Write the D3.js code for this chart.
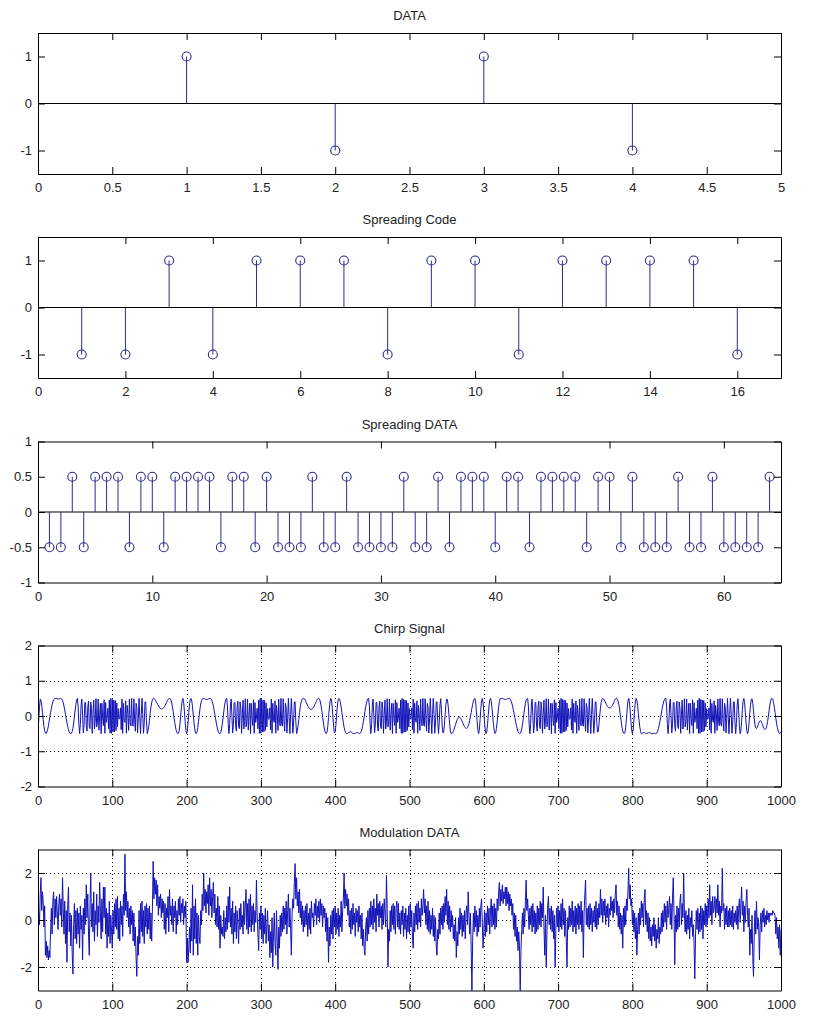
<!DOCTYPE html>
<html><head><meta charset="utf-8">
<script src="https://cdn.jsdelivr.net/npm/d3@7"></script>
<style>body{margin:0;background:#fff}</style>
</head><body>
<svg id="chart" width="827" height="1024"></svg>
<script>
// ---------------- DATA ----------------
const titles = ["DATA", "Spreading Code", "Spreading DATA", "Chirp Signal", "Modulation DATA"];

const dataIndex = [1, 2, 3, 4];
const dataBits = [1, -1, 1, -1];

const codeIndex = d3.range(1, 17);
const spreadingCode = [-1, -1, 1, -1, 1, 1, 1, -1, 1, 1, -1, 1, 1, 1, 1, -1];

const spreadIndex = d3.range(1, 65);
const spreadingData = [
  -0.5, -0.5, 0.5, -0.5, 0.5, 0.5, 0.5, -0.5, 0.5, 0.5, -0.5, 0.5, 0.5, 0.5, 0.5, -0.5,
  0.5, 0.5, -0.5, 0.5, -0.5, -0.5, -0.5, 0.5, -0.5, -0.5, 0.5, -0.5, -0.5, -0.5, -0.5, 0.5,
  -0.5, -0.5, 0.5, -0.5, 0.5, 0.5, 0.5, -0.5, 0.5, 0.5, -0.5, 0.5, 0.5, 0.5, 0.5, -0.5,
  0.5, 0.5, -0.5, 0.5, -0.5, -0.5, -0.5, 0.5, -0.5, -0.5, 0.5, -0.5, -0.5, -0.5, -0.5, 0.5
];

// chirp signal, samples 0..1000
const chirpSignal = [
-.45,-.1,.25,.48,.45,.3,.1,-.1,-.3,-.42,-.48,-.5,-.45,-.38,-.28,-.15,-.02,.1,.22,.32,.4,.46,.49,.5,.5,.5,.49,.48,.48,.49,.5,.5,.48,.44,.37,.28,.17,.05,-.08,-.2,-.3,-.39,-.45,-.49,-.5,-.49,-.44,-.35,-.2,-.02,.17,.33,.45,
.5,.28,-.22,-.5,-.24,.31,.48,.01,-.48,-.25,.38,.38,-.28,-.43,.25,.42,-.3,-.36,.4,.21,-.49,.05,.45,-.37,-.15,.49,-.31,-.17,.48,-.4,.02,.36,-.5,.36,-.05,-.27,.46,-.49,.38,-.18,-.03,.22,-.36,.45,-.49,.5,-.49,.47,-.45,.45,-.45,.44,-.41,.37,-.31,.21,-.09,-.07,.23,-.39,.48,-.49,.36,-.12,-.18,.43,-.49,.3,.07,-.41,.48,-.18,-.28,.5,-.23,-.29,.49,-.09,-.43,.36,.24,-.48,-.07,.5,-.03,-.5,.04,.5,.04,-.49,-.2,.4,.4,-.16,-.5,
-.42,-.3,-.12,.08,.25,.38,.46,.5,.5,.48,.45,.41,.37,.33,.29,.26,.23,.21,.2,.2,.21,.23,.26,.3,.34,.39,.43,.47,.49,.5,.49,.45,.37,.26,.12,-.03,-.18,-.31,-.41,-.47,-.5,-.49,
-.42,-.25,0,.25,.43,.5,.4,.15,-.15,-.4,-.5,-.42,-.18,.1,.35,.48,.5,.42,.25,.03,-.2,-.38,-.48,-.5,-.45,-.33,-.16,.03,.2,.34,
.43,.48,.5,.5,.49,.48,.47,.47,.47,.48,.49,.5,.5,.48,.44,.37,.28,.17,.05,-.08,-.2,-.31,-.4,-.46,-.5,-.5,-.46,-.37,-.23,-.06,.12,.28,.41,.48,
.5,.28,-.22,-.5,-.24,.31,.48,.01,-.48,-.25,.38,.38,-.28,-.43,.25,.42,-.3,-.36,.4,.21,-.49,.05,.45,-.37,-.15,.49,-.31,-.17,.48,-.4,.02,.36,-.5,.36,-.05,-.27,.46,-.49,.38,-.18,-.03,.22,-.36,.45,-.49,.5,-.49,.47,-.45,.45,-.45,.44,-.41,.37,-.31,.21,-.09,-.07,.23,-.39,.48,-.49,.36,-.12,-.18,.43,-.49,.3,.07,-.41,.48,-.18,-.28,.5,-.23,-.29,.49,-.09,-.43,.36,.24,-.48,-.07,.5,-.03,-.5,.04,.5,.04,-.49,-.2,.4,.4,-.16,-.5,
-.42,-.28,-.1,.1,.26,.38,.45,.49,.5,.5,.48,.44,.39,.34,.29,.25,.22,.2,.19,.19,.2,.22,.25,.29,.34,.39,.44,.48,.5,.5,.47,.4,.29,.15,-.01,-.17,-.31,-.42,-.48,-.5,
-.45,-.3,-.05,.2,.4,.5,.45,.25,-.05,-.32,-.48,-.45,-.25,.05,.3,.46,.5,.47,.38,.25,.1,-.06,-.2,-.32,-.41,-.47,-.5,-.5,-.49,-.47,-.46,-.45,-.45,-.46,-.48,-.5,-.5,-.5,-.49,-.48,-.47,-.47,-.48,-.5,-.5,-.48,-.44,-.37,-.27,-.15,-.02,.12,.25,.36,.44,.49,
.5,.28,-.22,-.5,-.24,.31,.48,.01,-.48,-.25,.38,.38,-.28,-.43,.25,.42,-.3,-.36,.4,.21,-.49,.05,.45,-.37,-.15,.49,-.31,-.17,.48,-.4,.02,.36,-.5,.36,-.05,-.27,.46,-.49,.38,-.18,-.03,.22,-.36,.45,-.49,.5,-.49,.47,-.45,.45,-.45,.44,-.41,.37,-.31,.21,-.09,-.07,.23,-.39,.48,-.49,.36,-.12,-.18,.43,-.49,.3,.07,-.41,.48,-.18,-.28,.5,-.23,-.29,.49,-.09,-.43,.36,.24,-.48,-.07,.5,-.03,-.5,.04,.5,.04,-.49,-.2,.4,.4,-.16,-.5,-.21,.31,.49,.18,-.29,
-.48,-.45,-.25,.05,.32,.48,.47,.3,.05,-.22,-.42,-.5,-.5,
-.48,-.44,-.38,-.31,-.24,-.17,-.11,-.07,-.04,-.03,-.04,-.07,-.11,-.16,-.21,-.26,-.3,-.33,-.35,-.35,-.33,-.29,-.22,-.13,-.02,.1,.22,.33,.42,.48,.5,
.4,.15,-.15,-.4,-.5,-.4,-.1,.2,.43,.5,.38,.12,-.18,-.4,-.5,-.45,-.25,.02,.28,.45,.5,.42,.24,0,-.24,-.41,-.5,-.47,-.35,-.16,.06,.26,.41,.49,
.5,.5,.5,.49,.48,.47,.47,.47,.48,.49,.5,.5,.49,.46,.41,.34,.25,.15,.04,-.07,-.18,-.28,-.37,-.44,-.48,-.5,-.49,-.45,-.37,-.25,-.1,.06,.22,.36,.46,.48,
.5,.28,-.22,-.5,-.24,.31,.48,.01,-.48,-.25,.38,.38,-.28,-.43,.25,.42,-.3,-.36,.4,.21,-.49,.05,.45,-.37,-.15,.49,-.31,-.17,.48,-.4,.02,.36,-.5,.36,-.05,-.27,.46,-.49,.38,-.18,-.03,.22,-.36,.45,-.49,.5,-.49,.47,-.45,.45,-.45,.44,-.41,.37,-.31,.21,-.09,-.07,.23,-.39,.48,-.49,.36,-.12,-.18,.43,-.49,.3,.07,-.41,.48,-.18,-.28,.5,-.23,-.29,.49,-.09,-.43,.36,.24,-.48,-.07,.5,-.03,-.5,.04,.5,.04,-.49,-.2,.4,.4,
-.15,-.45,-.45,-.25,
0,.22,.38,.47,.5,.49,.46,.42,.37,.33,.29,.26,.24,.23,.23,.24,.26,.3,.34,.39,.44,.48,.5,.5,.47,.4,.29,.15,-.01,-.17,-.31,-.42,-.48,-.5,
-.46,-.32,-.08,.2,.42,.5,.4,.15,-.15,-.4,-.5,-.4,-.12,.18,.4,.5,.45,.3,.08,-.14,-.32,-.44,-.5,-.5,-.48,-.47,-.47,-.48,-.5,-.5,-.49,-.48,-.47,-.47,-.48,-.49,-.5,-.5,-.5,-.49,-.49,-.5,-.5,-.48,-.43,-.36,-.27,-.16,-.04,.08,.2,.31,.4,.46,.5,
.5,.28,-.22,-.5,-.24,.31,.48,.01,-.48,-.25,.38,.38,-.28,-.43,.25,.42,-.3,-.36,.4,.21,-.49,.05,.45,-.37,-.15,.49,-.31,-.17,.48,-.4,.02,.36,-.5,.36,-.05,-.27,.46,-.49,.38,-.18,-.03,.22,-.36,.45,-.49,.5,-.49,.47,-.45,.45,-.45,.44,-.41,.37,-.31,.21,-.09,-.07,.23,-.39,.48,-.49,.36,-.12,-.18,.43,-.49,.3,.07,-.41,.48,-.18,-.28,.5,-.23,-.29,.49,-.09,-.43,.36,.24,-.48,-.07,.5,-.03,-.5,.04,.5,.04,-.49,-.2,.4,.4,-.16,-.5,-.21,.31,.49,.18,-.29,
-.5,-.42,-.15,.18,.42,.5,.38,.1,-.2,-.42,-.5,-.42,-.2,.08,.32,.47,.49,.36,
.15,-.08,-.25,-.34,-.36,-.33,-.27,-.2,-.15,-.13,-.14,-.18,-.24,-.3,-.35,-.38,-.38,-.35,-.27,-.15,0,.16,.31,.42,.49,.5,.47,.38,.25,.1,-.06,-.2,-.32,-.41,-.47,-.5,-.49,-.45
];

// modulated (noisy) data, samples 0..1000
const modulationData = [
-.7,.3,-.2,1.1,1.8,.4,1.2,.8,-.3,.6, -1.5,-.9,-1.6,-1.1,-1.7,-1.3,-1.6,-.4,.5,-.6,
.8,1.2,-.2,.9,.1,1,.3,-.4,.7,1.1, .2,.9,-.3,1.8,.5,-.6,.8,-1,.4,-1.8,
.6,1.4,-.5,.3,-1.1,.2,-1.4,-2.3,-.2,.7, -.8,.4,-1,.5,-.6,.3,-1.2,.6,-.4,.2,
-1.7,.5,-.6,.9,-.2,1.5,.1,1.1,-.6,-1.5, .6,2,-.3,.7,-.5,1.2,-.9,.4,-.2,1.1,
-.7,.6,-.1,1.6,.3,-.8,.9,-.5,1.4,.1, 1.4,-.6,.5,-1.2,.3,-.7,.8,-1,.2,-.5,
-1.2,.4,-.6,.7,-.3,.9,-.4,1,-.8,.5, -.9,.8,-.2,.6,-.7,1.1,.2,2.8,.4,1.2,
.1,.8,-.3,.5,-.6,.6,-.2,.4,-.9,.3, -1.1,-.3,-1.6,-2.4,-.7,-1.5,.4,-1,.7,-.5,
.8,-.7,.4,-1,.6,-.3,.7,-.6,.5,-.4, .6,-.8,.3,-.9,.5,2.5,.9,1.8,1.1,1.7,
.6,1.5,.2,1,.5,1.1,.1,.9,.3,.8, -.4,.7,-.6,.5,.1,1,-.5,1.3,.2,.6,
-.2,.9,-.5,.6,.1,.8,-.6,.4,-.2,.9, .2,1,-.1,.7,.3,.9,-.2,.6,.1,.8,
-1.8,-.8,-1.8,-1.1,-.3,-1.4,.5,-.9,1.5,-1.5, .6,-.8,.9,-1,.3,-1.5,.2,-.7,-1,.4,
-.2,1.1,.4,2,.6,1.3,.3,1.2,.7,1.5, .2,1.8,.6,1.3,.1,1,1.6,.3,1.1,-.2,
.5,-.3,1,-.4,.6,-1.2,.2,-.6,-.3,-.7, .4,-.8,.1,-.5,.6,-.4,1,-.1,1.4,-.3,
.5,-.6,.8,-1,.3,-.5,.6,-.8,.4,-.2, -1,.5,-.4,.7,-.3,.2,-.6,.8,-.2,.6,
1.3,-.4,.7,-.6,.9,-.3,1.1,-.5,.6,-.2, .7,-.5,.4,-.1,1.7,.2,-.6,-1.3,.3,-.4,
.6,-.8,.3,-1,.2,-.6,.5,-1,-.2,.4, -.9,-.2,-1.6,-.5,-1.4,.1,-2,-.6,.3,-1,
-1.5,.4,-.9,-2.1,-.3,-1.2,.2,-.7,.3,-.5, .6,-.4,.5,-.2,.8,-.6,.4,1.1,-.3,.5,
-.4,-1.5,.3,.9,.5,1.6,2.4,.9,1.8,.6, 1.2,.3,1.3,.1,.8,-.2,.6,-.5,.4,-.3,
.6,-.2,.7,-.7,.3,-.4,.5,-.6,.8,.1, .3,-.3,.7,.2,.9,-.2,.6,.1,.8,-.1,
.9,.2,.7,-.3,.6,.1,.5,-.5,.3,-.9, .1,-1.8,-.3,-1.1,.2,-.6,.4,-.8,.5,-.3,
.6,-.6,.3,-.4,.5,-.7,.2,-.3,.8,-.5, .4,.9,2,.5,1.3,.6,1.1,.2,.9,-.3,
.4,-.6,.5,-.4,.7,-.2,.3,-.7,.5,-.1, .4,-.5,.6,-.3,.2,-.8,.3,-1.1,-.4,-1.2,
-1.5,-.3,.1,-.9,.4,-.6,.5,-.3,.8,-.2, .6,-.4,.9,-.1,.5,-.5,1.1,.2,.7,-.3,
.8,.1,.6,-.4,.7,-.2,.9,.3,-.3,1.9, .5,-2,-.4,-.9,.4,-.5,.6,-.2,.7,-.4,
.6,-.6,.5,.8,-.3,.7,-.4,.3,-.6,.4, -.2,.6,-.7,.3,-.4,.5,-.8,.2,-.5,.6,
-.6,.7,-.3,.4,-.8,-1.2,.3,-.5,.6,-.2, .7,-.4,.8,-.1,.5,-.3,.9,.2,.6,1.3,
.3,.9,-.2,.6,-.4,.8,-.5,.4,-.6,.2, -.4,.5,-.7,.2,-.9,.1,-1.1,-1.5,-.4,-.8,
.3,-.6,.5,-.2,.6,-.4,.7,-.1,1,.2, 1.3,-.2,.8,-.4,.6,-.5,.4,-.3,.2,-.8,
-.2,-.9,.1,-1.6,-.5,-1.1,.1,-.6,.5,-.4, .3,-.7,.2,-.5,.4,-.8,.3,.6,-.2,1.2,
.2,-.6,.3,-1.2,-3.1,-.9,.3,-.5,.6,-.3, .4,-.7,.2,-.5,.5,-.3,.6,.9,-.1,-1.2,
-.5,.4,-.7,.3,-.5,.6,-.2,.5,-.6,.4, .9,-.3,.6,-.2,.7,-.4,.5,-.3,.9,.4,
1.2,1.6,.6,1.3,.8,1.5,.7,1.2,.9,1.4, .6,1.4,.7,1.2,.4,1.1,.6,.9,.2,.7,
-.4,.3,-.7,.2,-.9,-.3,-1.3,-.5,-1.1,-3.2, -1.3,-.4,.3,-.6,.5,-.3,.8,1.7,.4,.9,
.2,-.4,.5,-.2,.6,-.5,.7,-.3,.4,-.6, .3,-.5,.6,-.4,.5,-.2,.8,-.3,.7,.1,
1.4,-.3,-1.5,.2,-2,-.5,.6,1,-.2,.5, -.4,.6,-.5,.4,-.8,.2,-2,-.4,.5,-.3,
.6,-.5,.4,-.3,.7,-.4,.9,-.2,.5,-.7, .4,-.9,-2,.1,-.4,.6,-.3,.5,-.2,.8,
-.5,.4,-.3,.6,-.6,.5,-.2,.7,-.4,.6, -.2,.8,-.5,.4,-1.6,.3,1.1,1.7,-.2,.5,
-.3,.6,-.4,.7,-.2,.5,-.5,.4,-.1,.6, -.3,.8,-.4,.5,-.2,.7,.1,1.3,.2,.9,
-.1,.8,.2,.9,-.2,.6,.1,.7,-.3,.5, .2,1,.4,.8,.1,.9,.3,1.1,1.5,.2,
.8,-.3,.6,-.4,.3,-.6,.2,-1.2,.5,-.3, .6,-.2,.9,.4,1.2,2.2,.9,1.5,.6,.9,
-.2,.4,-.5,.3,-.8,.1,-1.5,-.4,.3,-.6, .5,-.2,.8,.1,.7,-.3,.9,1.3,-.2,.4,
-.5,.3,-.8,.1,-.9,-.3,-1.1,-.2,-.7,.1, -.9,-.2,-1.2,-.4,-.8,.1,-1,-.3,-.6,.3,
-.5,.4,-.3,.7,-.1,.6,-.4,.8,.1,.5, 1,-.2,.7,-.4,.9,1.8,.3,-1.9,.2,-.5,
.6,-.4,.5,-.3,.8,1.1,-.2,.7,.1,2, .3,-.5,.4,-.6,.2,-.4,.5,-.8,.1,-.3,
.4,-.7,-.2,-1,-2.5,-.6,.4,-.4,.5,-.6, .3,-.5,.6,-.4,.5,-.8,.4,-.2,.7,-.3,
.6,-.2,.9,.1,1.5,.2,.8,-.2,1,.3, .5,1,.1,.9,.3,1.5,.2,.8,-.3,.6,
.3,2.2,.4,.7,-.4,.5,-.2,.6,-.3,.4, -.3,.5,-.2,.4,-.3,.6,-.4,.3,-.1,.4,
-.2,.6,-.4,.5,.9,-.1,.7,1.4,.2,.8, -.5,.6,-.1,.8,1.3,.2,-.3,.5,-1.5,-.4,
-1,.2,-1.6,-2.4,-.5,.4,-.6,.8,-.4,.1, -.3,-1.7,-.2,.3,-.5,.4,-.1,.5,-.3,.2,
-.2,.4,0,.3,-.1,.3,.2,.3,.2,.4, .3,.3,.2,-.6,.1,-.8,-.3,-1.2,-.2,-1.5,
-.4
];

// axis ticks
const ticksX1 = [0, 0.5, 1, 1.5, 2, 2.5, 3, 3.5, 4, 4.5, 5];
const ticksY1 = [-1, 0, 1];
const ticksX2 = [0, 2, 4, 6, 8, 10, 12, 14, 16];
const ticksY2 = [-1, 0, 1];
const ticksX3 = [0, 10, 20, 30, 40, 50, 60];
const ticksY3 = [-1, -0.5, 0, 0.5, 1];
const ticksX4 = [0, 100, 200, 300, 400, 500, 600, 700, 800, 900, 1000];
const ticksY4 = [-2, -1, 0, 1, 2];
const ticksX5 = ticksX4;
const ticksY5 = [-2, 0, 2];

// ---------------- DRAWING ----------------
const svg = d3.select("#chart");
const L = 38, R = 781, H = 141;
const tops = [33, 237, 441.5, 645.5, 849.5];
const FONT = "'Liberation Sans', Arial, Helvetica, sans-serif";
const STEM = "#2c2c8c";
const LINE = "#1212b8";

const panels = [
  {title: titles[0], xd: [0, 5], yd: [-1.5, 1.5], xt: ticksX1, yt: ticksY1, kind: "stem", xs: dataIndex, ys: dataBits},
  {title: titles[1], xd: [0, 17], yd: [-1.5, 1.5], xt: ticksX2, yt: ticksY2, kind: "stem", xs: codeIndex, ys: spreadingCode},
  {title: titles[2], xd: [0, 65], yd: [-1, 1], xt: ticksX3, yt: ticksY3, kind: "stem", xs: spreadIndex, ys: spreadingData},
  {title: titles[3], xd: [0, 1000], yd: [-2, 2], xt: ticksX4, yt: ticksY4, kind: "line", ys: chirpSignal, grid: true},
  {title: titles[4], xd: [0, 1000], yd: [-3, 3], xt: ticksX5, yt: ticksY5, kind: "line", ys: modulationData, grid: true}
];

panels.forEach((p, i) => {
  const top = tops[i], bottom = top + H;
  const x = d3.scaleLinear().domain(p.xd).range([L, R]);
  const y = d3.scaleLinear().domain(p.yd).range([bottom, top]);
  const g = svg.append("g");

  const cid = "clip" + i;
  svg.append("clipPath").attr("id", cid).append("rect")
    .attr("x", L).attr("y", top).attr("width", R - L).attr("height", H);

  if (p.grid) {
    const gg = g.append("g").attr("stroke", "#000").attr("stroke-width", 1)
      .attr("stroke-dasharray", "1,3").attr("shape-rendering", "crispEdges");
    gg.selectAll("line.gx").data(p.xt.slice(1, -1)).join("line").attr("class", "gx")
      .attr("x1", d => Math.round(x(d)) + 0.5).attr("x2", d => Math.round(x(d)) + 0.5)
      .attr("y1", top).attr("y2", bottom);
    gg.selectAll("line.gy").data(p.yt.filter(v => v > p.yd[0] && v < p.yd[1])).join("line")
      .attr("class", "gy")
      .attr("y1", d => Math.round(y(d)) + 0.5).attr("y2", d => Math.round(y(d)) + 0.5)
      .attr("x1", L).attr("x2", R);
  }

  const dg = g.append("g").attr("clip-path", `url(#${cid})`);
  if (p.kind === "stem") {
    dg.append("line").attr("x1", L).attr("x2", R)
      .attr("y1", y(0)).attr("y2", y(0)).attr("stroke", "#000").attr("stroke-width", 1);
    const pts = p.xs.map((xv, k) => ({x: xv, y: p.ys[k]}));
    dg.selectAll("line.stem").data(pts).join("line").attr("class", "stem")
      .attr("x1", d => x(d.x)).attr("x2", d => x(d.x))
      .attr("y1", y(0)).attr("y2", d => y(d.y))
      .attr("stroke", STEM).attr("stroke-width", 1);
    dg.selectAll("circle").data(pts).join("circle")
      .attr("cx", d => x(d.x)).attr("cy", d => y(d.y)).attr("r", 4.5)
      .attr("fill", "none").attr("stroke", STEM).attr("stroke-width", 1.1);
  } else {
    const line = d3.line().x((d, k) => x(k)).y(d => y(d));
    dg.append("path").datum(p.ys).attr("d", line)
      .attr("fill", "none").attr("stroke", LINE).attr("stroke-width", 1)
      .attr("stroke-linejoin", "round");
  }

  const styleAxis = (sel) => {
    sel.selectAll("path.domain").attr("stroke", "#000").attr("stroke-width", 1);
    sel.selectAll(".tick line").attr("stroke", "#000");
    sel.selectAll("text").attr("font-family", FONT).attr("font-size", 13).attr("fill", "#222");
  };
  g.append("g").attr("transform", `translate(0,${bottom})`)
    .call(d3.axisBottom(x).tickValues(p.xt).tickSize(-7).tickSizeOuter(0).tickPadding(9).tickFormat(d => String(d)))
    .call(styleAxis);
  g.append("g").attr("transform", `translate(0,${top})`)
    .call(d3.axisTop(x).tickValues(p.xt).tickSize(-7).tickSizeOuter(0).tickFormat(""))
    .call(styleAxis);
  g.append("g").attr("transform", `translate(${L},0)`)
    .call(d3.axisLeft(y).tickValues(p.yt).tickSize(-7).tickSizeOuter(0).tickPadding(6).tickFormat(d => String(d)))
    .call(styleAxis);
  g.append("g").attr("transform", `translate(${R},0)`)
    .call(d3.axisRight(y).tickValues(p.yt).tickSize(-7).tickSizeOuter(0).tickFormat(""))
    .call(styleAxis);

  g.append("text").attr("x", (L + R) / 2).attr("y", top - 13)
    .attr("text-anchor", "middle").attr("font-family", FONT).attr("font-size", 13)
    .attr("fill", "#222").text(p.title);
});
</script>
</body></html>
